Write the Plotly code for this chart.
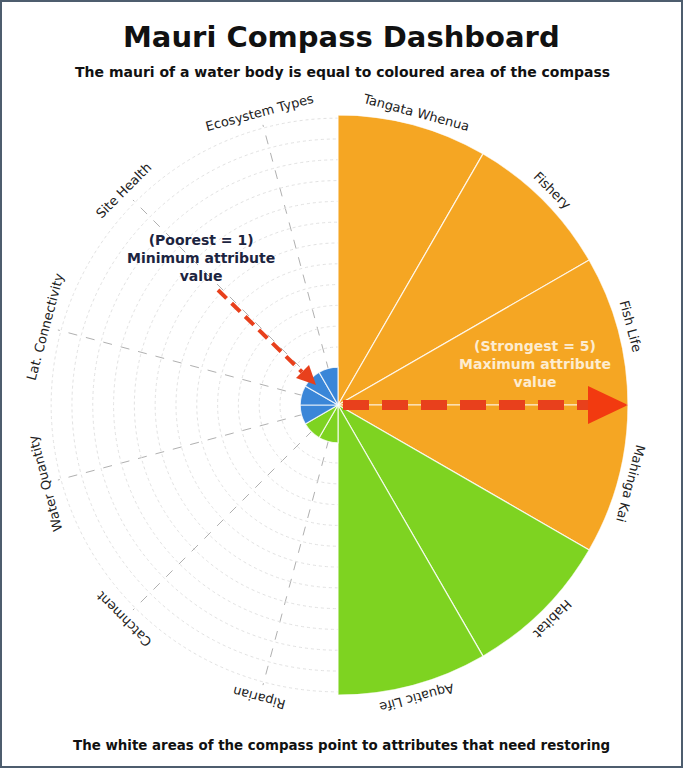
import math
import plotly.graph_objects as go

# ---- data ----
categories = ["Tangata Whenua", "Fishery", "Fish Life", "Mahinga Kai", "Habitat",
              "Aquatic Life", "Riparian", "Catchment", "Water Quantity",
              "Lat. Connectivity", "Site Health", "Ecosystem Types"]
values = [5, 5, 5, 5, 5, 5, 1, 1, 1, 1, 1, 1]
bar_colors = ["#F5A623", "#F5A623", "#F5A623", "#F5A623", "#7ED321", "#7ED321",
              "#7ED321", "#7ED321", "#3A86D8", "#3A86D8", "#3A86D8", "#3A86D8"]
label_angles = [15, 45, 75, 105, 135, 165, 195, 225, 255, 285, 315, 345]

W, H = 683, 769
CX, CY, R = 338, 405, 290
FONT = "DejaVu Sans"


def px(x, y):
    return x / W, (H - y) / H


fig = go.Figure()
fig.add_trace(go.Barpolar(
    r=values, theta=categories,
    marker=dict(color=bar_colors, line=dict(color="rgba(255,255,255,0.8)", width=1.2)),
    hoverinfo="theta+r", showlegend=False,
))

x0, y0 = px(CX - R, CY + R)
x1, y1 = px(CX + R, CY - R)

fig.update_layout(
    width=W, height=H,
    margin=dict(l=0, r=0, t=0, b=0),
    paper_bgcolor="white",
    font=dict(family=FONT, color="#111"),
    polar=dict(
        domain=dict(x=[x0, x1], y=[y0, y1]),
        bgcolor="white",
        bargap=0,
        angularaxis=dict(rotation=75, direction="clockwise", showticklabels=False,
                         showline=False, ticks="", gridcolor="#b0b0b0", griddash="dash",
                         gridwidth=1, layer="below traces"),
        radialaxis=dict(range=[0.4, 5], showticklabels=False, ticks="", showline=False,
                        tick0=0, dtick=0.33, gridcolor="#e2e2e2", griddash="dot",
                        gridwidth=1, layer="below traces"),
    ),
)

annotations = []
# tangential category labels
for cat, ang in zip(categories, label_angles):
    rad = math.radians(ang)
    lx = CX + 303 * math.sin(rad)
    ly = CY - 303 * math.cos(rad)
    ta = ((ang + 180) % 360) - 180
    ax_, ay_ = px(lx, ly)
    annotations.append(dict(x=ax_, y=ay_, xref="paper", yref="paper", text=cat,
                            showarrow=False, textangle=ta, xanchor="center", yanchor="middle",
                            font=dict(family=FONT, size=13, color="#222")))


def text_ann(x, y, text, size, color):
    ax_, ay_ = px(x, y)
    return dict(x=ax_, y=ay_, xref="paper", yref="paper", showarrow=False, text=text,
                xanchor="center", yanchor="middle", align="center",
                font=dict(family=FONT, size=size, color=color))


annotations.append(text_ann(W / 2, 37, "<b>Mauri Compass Dashboard</b>", 29, "#111"))
annotations.append(text_ann(W / 2 + 1, 72,
                            "<b>The mauri of a water body is equal to coloured area of the compass</b>",
                            14, "#111"))
annotations.append(text_ann(W / 2, 745,
                            "<b>The white areas of the compass point to attributes that need restoring</b>",
                            13.4, "#111"))
annotations.append(text_ann(201, 258, "<b>(Poorest = 1)<br>Minimum attribute<br>value</b>",
                            14, "#1c2440"))
annotations.append(text_ann(535, 364, "<b>(Strongest = 5)<br>Maximum attribute<br>value</b>",
                            14, "#fdecd0"))
fig.update_layout(annotations=annotations)

shapes = []
# frame
fx0, fy0 = px(1, 767)
fx1, fy1 = px(682, 1)
shapes.append(dict(type="rect", xref="paper", yref="paper", x0=fx0, y0=fy0, x1=fx1, y1=fy1,
                   line=dict(color="#4d5d6e", width=2)))
# min arrow (dashed shaft + head)
a0 = px(218, 290)
a1 = px(302, 372)
shapes.append(dict(type="line", xref="paper", yref="paper", x0=a0[0], y0=a0[1], x1=a1[0], y1=a1[1],
                   line=dict(color="#E8401C", width=4, dash="12px,7px")))
h1, h2, h3 = px(316, 385), px(296, 378), px(309, 365)
shapes.append(dict(type="path", xref="paper", yref="paper",
                   path=f"M{h1[0]},{h1[1]} L{h2[0]},{h2[1]} L{h3[0]},{h3[1]} Z",
                   fillcolor="#E8401C", line=dict(width=0)))
# max arrow
b0 = px(343, 405)
b1 = px(592, 405)
shapes.append(dict(type="line", xref="paper", yref="paper", x0=b0[0], y0=b0[1], x1=b1[0], y1=b1[1],
                   line=dict(color="#E8401C", width=10, dash="26px,13px")))
t1, t2, t3 = px(628, 405), px(588, 386), px(588, 424)
shapes.append(dict(type="path", xref="paper", yref="paper",
                   path=f"M{t1[0]},{t1[1]} L{t2[0]},{t2[1]} L{t3[0]},{t3[1]} Z",
                   fillcolor="#F23A10", line=dict(width=0)))
fig.update_layout(shapes=shapes)

fig.write_html("out.html", config={"displayModeBar": False},
               post_script="document.body.style.margin='0';document.body.style.overflow='hidden';")
